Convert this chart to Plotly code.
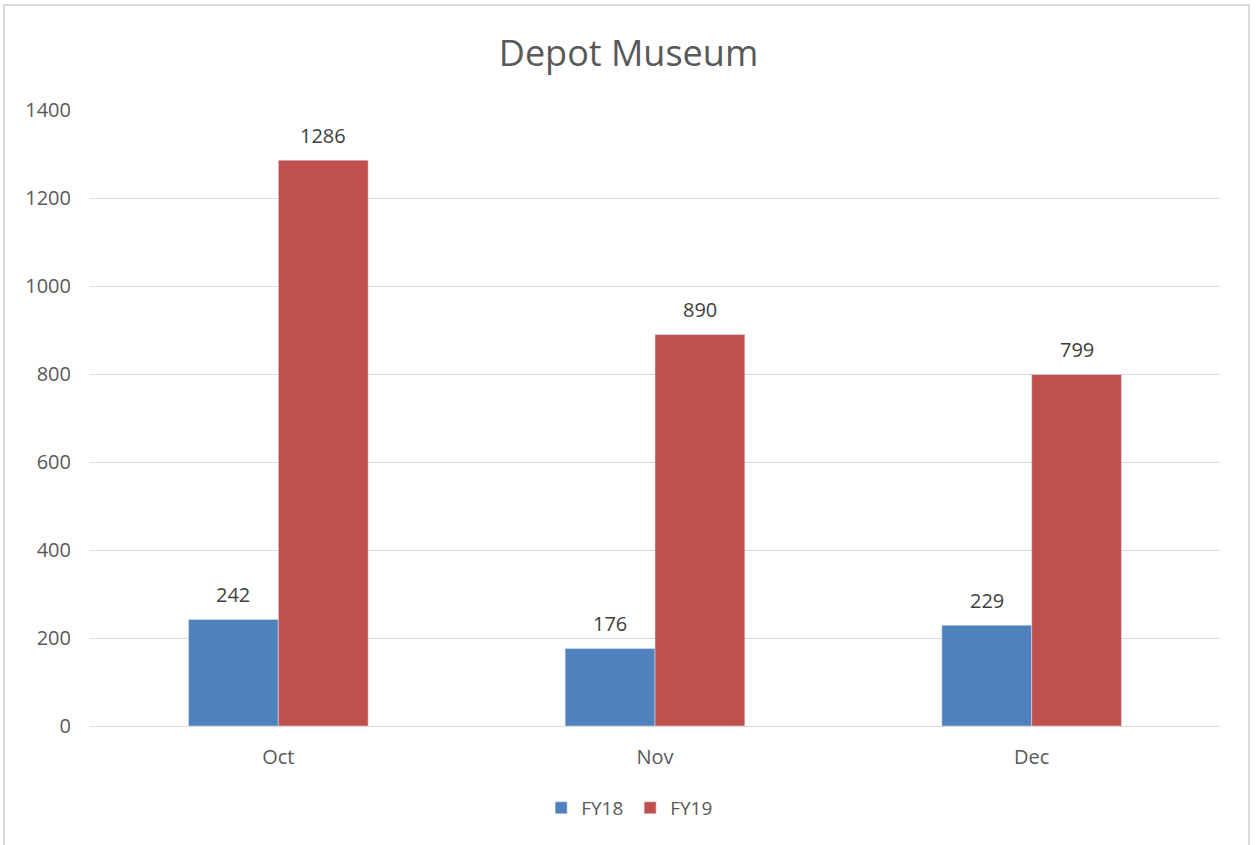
import plotly.graph_objects as go

months = ["Oct", "Nov", "Dec"]
fy18 = [242, 176, 229]
fy19 = [1286, 890, 799]
y_ticks = [0, 200, 400, 600, 800, 1000, 1200, 1400]

FONT = "Open Sans, Liberation Sans, sans-serif"
TXT = "#595959"

fig = go.Figure()
fig.add_trace(go.Bar(name="FY18", x=months, y=fy18, marker_color="#4F81BD"))
fig.add_trace(go.Bar(name="FY19", x=months, y=fy19, marker_color="#C0504D"))

# data labels placed above each bar via the axes
for vals, shift in ((fy18, -45), (fy19, 45)):
    for m, v in zip(months, vals):
        fig.add_annotation(x=m, y=v, xref="x", yref="y", text=str(v), showarrow=False,
                           xshift=shift, yshift=25, yanchor="middle",
                           font=dict(size=20, color="#404040", family=FONT))

fig.update_layout(
    width=1257, height=845,
    margin=dict(l=90, r=37, t=110, b=119),
    paper_bgcolor="white", plot_bgcolor="white",
    barmode="group", bargap=0.523, bargroupgap=0,
    font=dict(family=FONT, color=TXT, size=20),
    title=dict(text="Depot Museum", x=0.5, xanchor="center", y=0.937, yanchor="middle",
               font=dict(size=36, color=TXT, family=FONT)),
    showlegend=True,
    legend=dict(orientation="h", x=0.478, xanchor="center", y=-0.133, yanchor="middle",
                font=dict(size=19, color=TXT), entrywidth=44, entrywidthmode="pixels"),
    xaxis=dict(showgrid=False, showline=True, linecolor="#d9d9d9", linewidth=1,
               ticks="", ticklabelstandoff=13, tickfont=dict(size=20, color=TXT)),
    yaxis=dict(range=[0, 1400], tickvals=y_ticks, showgrid=True, gridcolor="#d9d9d9",
               gridwidth=1, zeroline=False, showline=False, ticks="",
               ticklabelstandoff=18, tickfont=dict(size=20, color=TXT)),
)

fig.add_shape(type="rect", xref="paper", yref="paper",
              x0=-0.0761, x1=1.0257, y0=-0.25, y1=1.1705,
              line=dict(color="#d9d9d9", width=2), fillcolor="rgba(0,0,0,0)", layer="below")

fig.write_html("out.html", config={"displayModeBar": False},
               post_script="document.body.style.margin='0';")
